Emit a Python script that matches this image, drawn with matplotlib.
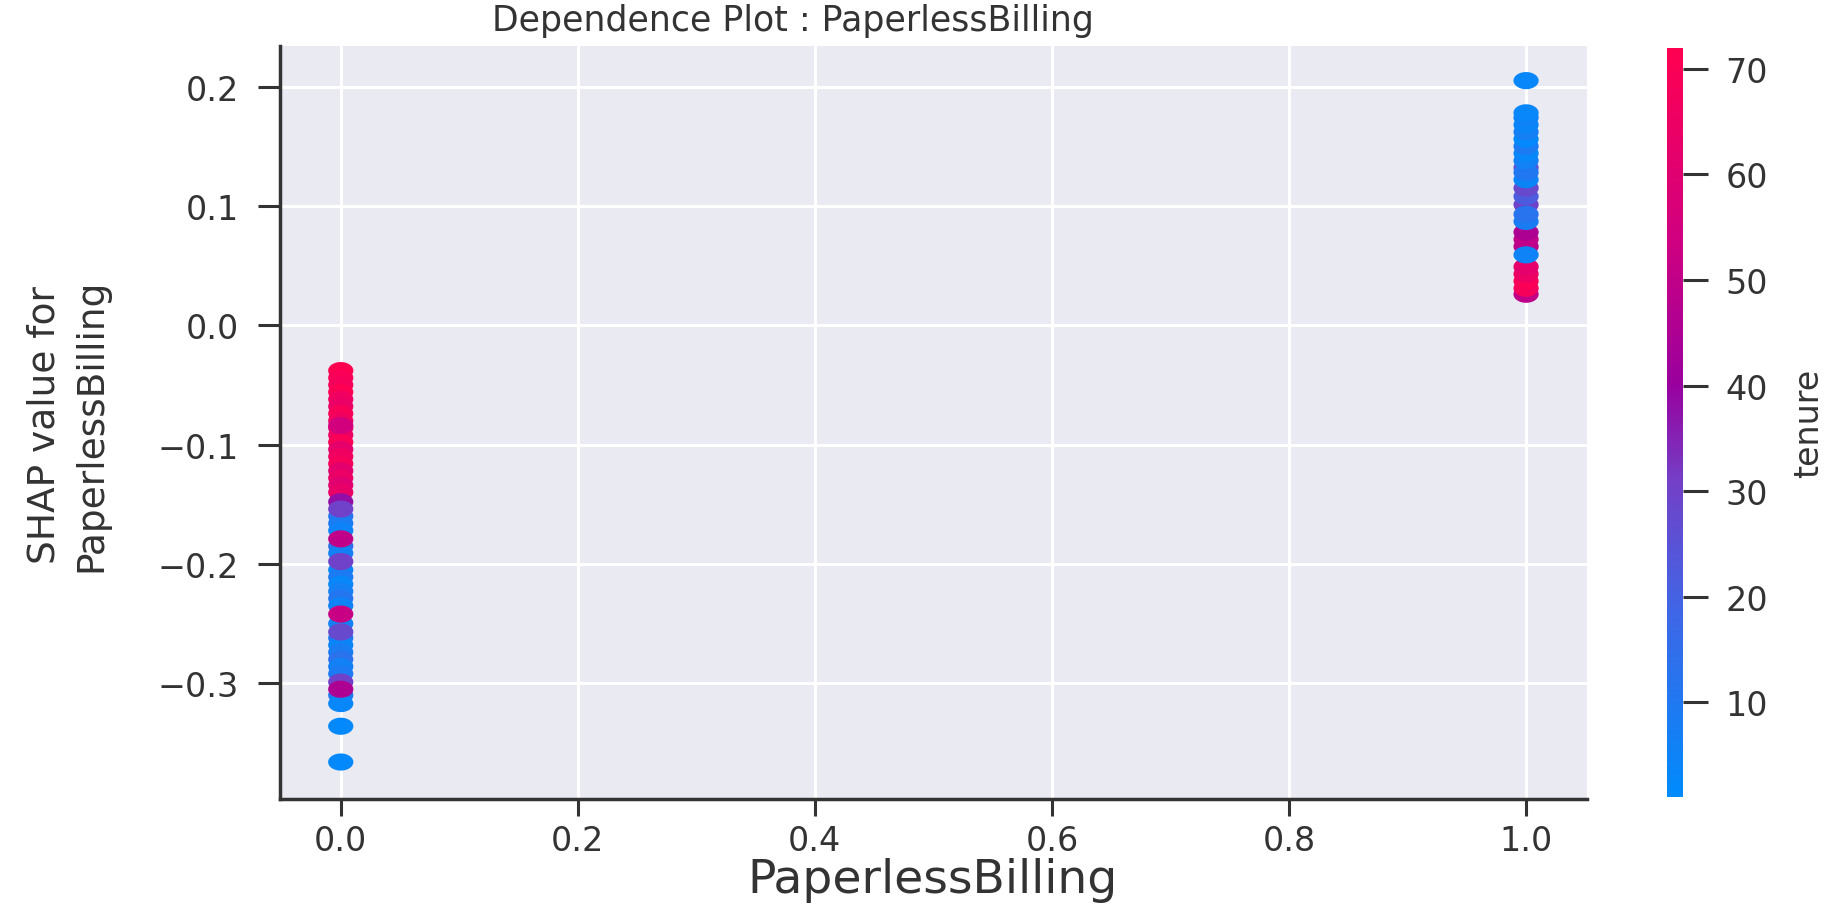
import numpy as np
import matplotlib
matplotlib.use("Agg")
import matplotlib.pyplot as plt
from matplotlib.colors import LinearSegmentedColormap
from matplotlib.path import Path
from matplotlib.markers import MarkerStyle

# SHAP values and tenure for PaperlessBilling = 0
shap_0 = [-0.038, -0.044, -0.050, -0.056, -0.062, -0.068, -0.074, -0.080, -0.086,
          -0.092, -0.098, -0.104, -0.110, -0.116, -0.122, -0.128, -0.134, -0.140,
          -0.160, -0.166, -0.172, -0.185, -0.191, -0.205, -0.211, -0.217, -0.223,
          -0.229, -0.235, -0.250, -0.262, -0.268, -0.274, -0.280, -0.286, -0.292,
          -0.310, -0.317, -0.336, -0.366,
          -0.148, -0.154, -0.084, -0.179, -0.198, -0.242, -0.257, -0.299, -0.305]
tenure_0 = [72, 70, 68, 71, 66, 64, 69, 67, 63, 65, 70, 62, 66, 68, 61, 64, 60, 63,
            12, 8, 5, 14, 6, 4, 9, 3, 7, 11, 5, 6, 10, 4, 8, 13, 6, 9,
            10, 3, 2, 2,
            38, 30, 55, 50, 30, 52, 28, 30, 45]

# SHAP values and tenure for PaperlessBilling = 1
shap_1 = [0.026, 0.031, 0.037, 0.043, 0.049,
          0.066, 0.072, 0.078,
          0.101, 0.108, 0.115, 0.132,
          0.059, 0.087, 0.093, 0.122, 0.128,
          0.138, 0.144, 0.150, 0.156, 0.162, 0.168, 0.174, 0.178, 0.205]
tenure_1 = [50, 68, 70, 65, 62,
            48, 50, 45,
            30, 22, 28, 25,
            5, 8, 12, 4, 10,
            6, 3, 9, 2, 7, 4, 5, 3, 3]

cbar_ticks = [10, 20, 30, 40, 50, 60, 70]
x_ticks = [0.0, 0.2, 0.4, 0.6, 0.8, 1.0]
y_ticks = [-0.3, -0.2, -0.1, 0.0, 0.1, 0.2]

red_blue = LinearSegmentedColormap.from_list("red_blue", [
    (0.00, (0.00, 0.545, 0.987)),
    (0.25, (0.25, 0.40, 0.90)),
    (0.42, (0.45, 0.25, 0.78)),
    (0.55, (0.60, 0.00, 0.62)),
    (0.75, (0.82, 0.00, 0.50)),
    (1.00, (1.00, 0.00, 0.318)),
])

# wide ellipse marker
t = np.linspace(0, 2 * np.pi, 60)
ellipse = MarkerStyle(Path(np.column_stack([np.cos(t), 0.68 * np.sin(t)]), closed=True))

plt.rcParams['font.family'] = ['DejaVu Sans']
txt = '#333333'

fig = plt.figure(figsize=(18.32, 9.04), dpi=100)
ax = fig.add_axes([0.153, 0.115, 0.713, 0.833])
ax.set_facecolor('#EAEAF2')

x_vals = [0.0] * len(shap_0) + [1.0] * len(shap_1)
sc = ax.scatter(x_vals, shap_0 + shap_1, c=tenure_0 + tenure_1, cmap=red_blue,
                vmin=1, vmax=72, s=330, marker=ellipse, linewidths=0, zorder=3)

ax.set_xlim(-0.051, 1.051)
ax.set_ylim(-0.397, 0.234)
ax.set_xticks(x_ticks)
ax.set_yticks(y_ticks)
ax.grid(True, color='white', linewidth=2.2, zorder=0)
ax.set_axisbelow(True)
for s in ['top', 'right']:
    ax.spines[s].set_visible(False)
for s in ['left', 'bottom']:
    ax.spines[s].set_color('#333333')
    ax.spines[s].set_linewidth(2.5)
ax.tick_params(axis='x', length=12, width=2.2, color='#333333', labelcolor=txt,
               labelsize=24, pad=6)
ax.tick_params(axis='y', length=16, width=2.2, color='#333333', labelcolor=txt,
               labelsize=24, pad=14)

fig.text(0.509, 0.026, 'PaperlessBilling', ha='center', va='center',
         fontsize=34, color=txt)
fig.text(0.037, 0.53, 'SHAP value for\nPaperlessBilling', rotation=90,
         ha='center', va='center', ma='center', fontsize=27, color=txt,
         linespacing=1.4)
fig.text(0.433, 0.977, 'Dependence Plot : PaperlessBilling', ha='center',
         va='center', fontsize=25, color=txt)

cax = fig.add_axes([0.910, 0.117, 0.0085, 0.829])
cb = fig.colorbar(sc, cax=cax, ticks=cbar_ticks)
cb.outline.set_visible(False)
cb.ax.tick_params(length=18, width=2.2, color='#333333', labelcolor=txt,
                  labelsize=24, pad=13)
fig.text(0.987, 0.532, 'tenure', rotation=90, ha='center', va='center',
         fontsize=24, color=txt)

fig.savefig('out.png', dpi=100)
